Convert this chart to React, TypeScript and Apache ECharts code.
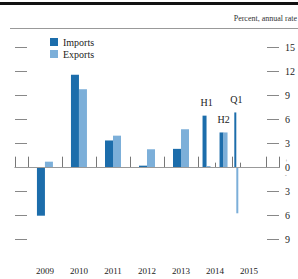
import React, { useEffect, useRef } from "react";
import * as echarts from "echarts";

const periods = ["2009", "2010", "2011", "2012", "2013", "2014 H1", "2014 H2", "2015 Q1"];
const periodStart = [2009, 2010, 2011, 2012, 2013, 2014, 2014.5, 2015];
const periodLength = [1, 1, 1, 1, 1, 0.5, 0.5, 0.25];
const periodLabels = ["", "", "", "", "", "H1", "H2", "Q1"];
const imports = [-6.0, 11.6, 3.4, 0.25, 2.35, 6.5, 4.4, 6.9];
const exportsData = [0.75, 9.8, 4.0, 2.3, 4.8, 0.2, 4.4, -5.7];
const yTicks = [-9, -6, -3, 0, 3, 6, 9, 12, 15];
const yearTicks = [2009, 2010, 2011, 2012, 2013, 2014, 2015, 2016];
const minorTicks = [2014.5, 2015.25];
const yearLabels = [2009, 2010, 2011, 2012, 2013, 2014, 2015];

const FONT = "Liberation Serif";
const IMP_COLOR = "#1c6dab";
const EXP_COLOR = "#7cafd9";

export default function App() {
  const ref = useRef<HTMLDivElement>(null);
  useEffect(() => {
    if (!ref.current) return;
    const chart = echarts.init(ref.current, undefined, { renderer: "svg" });
    const xMin = 2008.62;
    const xMax = 2016.38;
    const frac = 0.235;
    const rows = periods.map((p, i) => [periodStart[i], periodLength[i], imports[i], exportsData[i], i]);

    const makeBar = (side: number) => (params: any, api: any) => {
      const start = api.value(0);
      const len = api.value(1);
      const v = api.value(side === 0 ? 2 : 3);
      const idx = api.value(4);
      const center = start + len / 2;
      const w = len * frac;
      const x0 = side === 0 ? center - w : center;
      const x1 = side === 0 ? center : center + w;
      const pA = api.coord([x0, v]);
      const pB = api.coord([x1, 0]);
      const children: any[] = [
        {
          type: "rect",
          shape: {
            x: pA[0],
            y: Math.min(pA[1], pB[1]),
            width: pB[0] - pA[0],
            height: Math.abs(pB[1] - pA[1]),
          },
          style: { fill: side === 0 ? IMP_COLOR : EXP_COLOR },
        },
      ];
      const lab = periodLabels[idx];
      if (side === 0 && lab) {
        const top = Math.max(imports[idx], exportsData[idx]);
        const pt = api.coord([center, top]);
        children.push({
          type: "text",
          x: pt[0],
          y: pt[1] - 8,
          style: {
            text: lab,
            fill: "#222",
            font: `10px "${FONT}"`,
            align: "center",
            verticalAlign: "bottom",
          },
        });
      }
      return { type: "group", children };
    };

    chart.setOption({
      animation: false,
      textStyle: { fontFamily: FONT },
      grid: { left: 15, right: 18, top: 30, bottom: 18 },
      legend: {
        show: true,
        orient: "vertical",
        left: 45,
        top: 32,
        itemWidth: 8,
        itemHeight: 8,
        itemGap: 2,
        icon: "rect",
        textStyle: { fontFamily: FONT, fontSize: 10, color: "#222" },
        data: ["Imports", "Exports"],
      },
      graphic: [
        { type: "rect", shape: { x: 0, y: 2, width: 298, height: 3 }, style: { fill: "#111" } },
        { type: "line", shape: { x1: 10, y1: 28.5, x2: 298, y2: 28.5 }, style: { stroke: "#999", lineWidth: 1 } },
        {
          type: "text",
          x: 297,
          y: 18,
          style: {
            text: "Percent, annual rate",
            fill: "#333",
            font: `8px "${FONT}"`,
            align: "right",
            verticalAlign: "middle",
          },
        },
      ],
      xAxis: [
        {
          type: "value",
          min: xMin,
          max: xMax,
          position: "bottom",
          splitLine: { show: false },
          axisLine: { show: true, lineStyle: { color: "#777", width: 1 } },
          axisTick: {
            show: true,
            inside: true,
            length: 11,
            customValues: [xMin, ...yearTicks, xMax],
            lineStyle: { color: "#777" },
          },
          axisLabel: {
            show: true,
            customValues: yearLabels.map((y) => y + 0.5),
            formatter: (v: number) => String(Math.floor(v)),
            fontFamily: FONT,
            fontSize: 9,
            color: "#222",
            margin: 5,
          },
        },
        {
          type: "value",
          min: xMin,
          max: xMax,
          position: "bottom",
          splitLine: { show: false },
          axisLine: { show: false },
          axisTick: {
            show: true,
            inside: true,
            length: 5,
            customValues: minorTicks,
            lineStyle: { color: "#777" },
          },
          axisLabel: { show: false },
        },
      ],
      yAxis: [
        {
          type: "value",
          min: -11.66,
          max: 17.2,
          position: "left",
          splitLine: { show: false },
          axisLine: { show: false },
          axisTick: { show: true, inside: true, length: 12, customValues: yTicks, lineStyle: { color: "#888" } },
          axisLabel: { show: false },
        },
        {
          type: "value",
          min: -11.66,
          max: 17.2,
          position: "right",
          splitLine: { show: false },
          axisLine: { show: false },
          axisTick: { show: true, inside: true, length: 12, customValues: yTicks, lineStyle: { color: "#888" } },
          axisLabel: {
            show: true,
            customValues: yTicks,
            formatter: (v: number) => (v === 0 ? "{s|+}\n{n|0}\n{s|-}" : String(Math.abs(v))),
            fontFamily: FONT,
            fontSize: 10,
            color: "#222",
            margin: 6,
            rich: {
              s: { fontFamily: FONT, fontSize: 5, lineHeight: 5, color: "#222" },
              n: { fontFamily: FONT, fontSize: 10, lineHeight: 10, color: "#222" },
            },
          },
        },
      ],
      series: [
        {
          name: "Imports",
          type: "custom",
          xAxisIndex: 0,
          yAxisIndex: 0,
          itemStyle: { color: IMP_COLOR },
          renderItem: makeBar(0),
          data: rows,
          markLine: {
            silent: true,
            symbol: "none",
            label: { show: false },
            lineStyle: { color: "#999", width: 1, type: "solid" },
            data: [{ yAxis: 0 }],
          },
          z: 3,
        },
        {
          name: "Exports",
          type: "custom",
          xAxisIndex: 0,
          yAxisIndex: 0,
          itemStyle: { color: EXP_COLOR },
          renderItem: makeBar(1),
          data: rows,
          z: 3,
        },
      ],
    });
    return () => chart.dispose();
  }, []);
  return (
    <div
      ref={ref}
      style={{ position: "fixed", left: 0, top: 0, width: 298, height: 279, background: "#fff" }}
    />
  );
}
